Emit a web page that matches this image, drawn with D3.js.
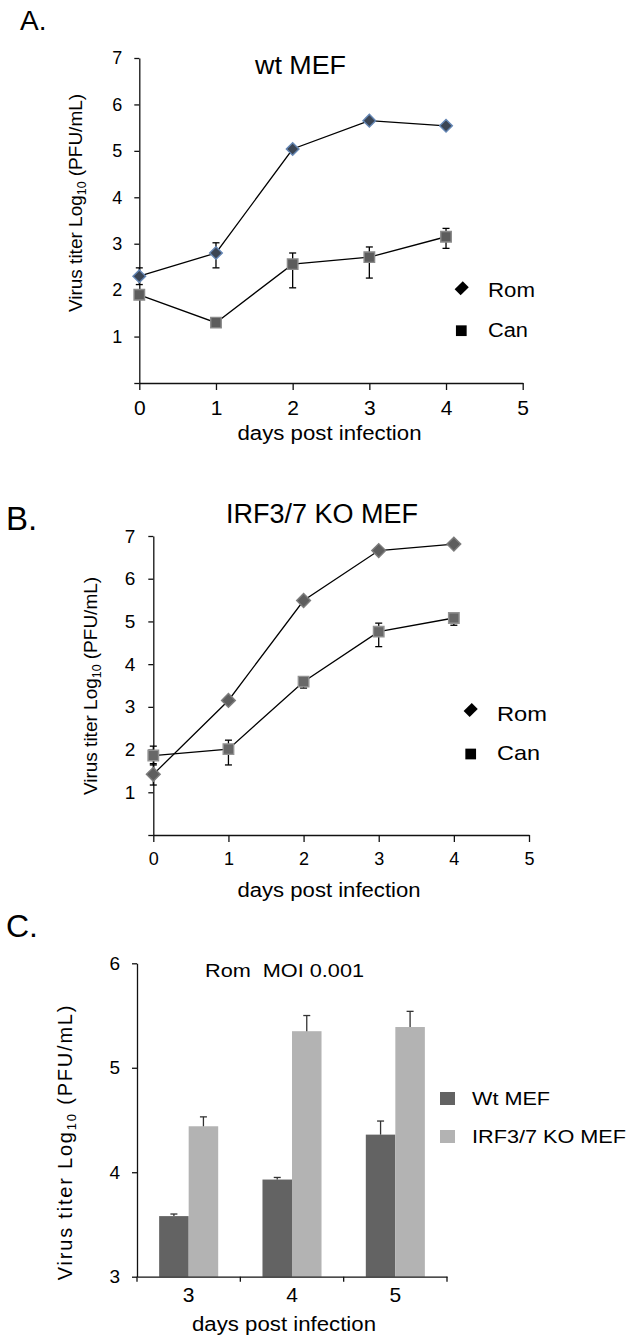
<!DOCTYPE html>
<html>
<head>
<meta charset="utf-8">
<script src="https://cdn.jsdelivr.net/npm/d3@7"></script>
<style>
  body { margin: 0; background: #fff; }
  text { font-family: "Liberation Sans", Arial, sans-serif; fill: #000; }
</style>
</head>
<body>
<div id="chart"></div>
<script>
const WIDTH  = 636;
const HEIGHT = 1341;

// ---- data ----
const daysAB   = [0, 1, 2, 3, 4];
const xTicksAB = [0, 1, 2, 3, 4, 5];
const yTicksAB = [0, 1, 2, 3, 4, 5, 6, 7];
const seriesAB = ['Rom', 'Can'];

// A. wt MEF
const wtRom     = [2.30, 2.80, 5.04, 5.65, 5.54];
const wtRomUp   = [0.18, 0.22, 0.03, 0.06, 0.03];
const wtRomDown = [0.18, 0.32, 0.03, 0.06, 0.03];
const wtCan     = [1.90, 1.30, 2.56, 2.71, 3.15];
const wtCanUp   = [0.10, 0.03, 0.24, 0.22, 0.18];
const wtCanDown = [0.10, 0.03, 0.51, 0.45, 0.25];

// B. IRF3/7 KO MEF
const koRom     = [1.42, 3.15, 5.49, 6.66, 6.81];
const koRomUp   = [0.25, 0.05, 0.05, 0.05, 0.03];
const koRomDown = [0.25, 0.05, 0.05, 0.05, 0.03];
const koCan     = [1.86, 2.01, 3.59, 4.76, 5.08];
const koCanUp   = [0.22, 0.21, 0.10, 0.20, 0.06];
const koCanDown = [0.22, 0.37, 0.15, 0.35, 0.17];

// C. Rom MOI 0.001
const barDays    = ['3', '4', '5'];
const barSeries  = ['Wt MEF', 'IRF3/7 KO MEF'];
const wtBar      = [3.58, 3.93, 4.36];
const wtBarErr   = [0.02, 0.02, 0.13];
const koBar      = [4.44, 5.35, 5.39];
const koBarErr   = [0.09, 0.15, 0.15];
const yTicksC    = [3, 4, 5, 6];

const svg = d3.select('#chart').append('svg')
  .attr('width', WIDTH)
  .attr('height', HEIGHT);

function styleAxis(g, fontSize) {
  g.attr('font-size', fontSize);
  g.selectAll('.domain, .tick line').attr('stroke', '#111').attr('stroke-width', 1.3);
  g.selectAll('.tick text').attr('fill', '#000');
}

function addText(x, y, str, size, len, anchor) {
  const t = svg.append('text')
    .attr('x', x).attr('y', y)
    .attr('font-size', size)
    .style('white-space', 'pre')
    .attr('text-anchor', anchor || 'start')
    .text(str);
  if (len) t.attr('textLength', len).attr('lengthAdjust', 'spacingAndGlyphs');
  return t;
}

function yLabel(cx, cy, size, spacing) {
  const t = svg.append('text')
    .attr('transform', 'translate(' + cx + ',' + cy + ') rotate(-90)')
    .attr('text-anchor', 'middle')
    .attr('font-size', size)
    .attr('letter-spacing', spacing || 0);
  t.append('tspan').text('Virus titer Log');
  t.append('tspan').attr('font-size', size * 0.65).attr('dy', size * 0.22).text('10');
  t.append('tspan').attr('dy', -size * 0.22).text(' (PFU/mL)');
}

const diamond = size => d3.symbol(d3.symbolSquare, size)();
const square  = size => d3.symbol(d3.symbolSquare, size)();
const intFmt  = d3.format('d');

// ---- line panels ----
function linePanel(p) {
  const x = d3.scaleLinear().domain([0, 5]).range(p.xRange);
  const y = d3.scaleLinear().domain([0, 7]).range(p.yRange);
  const g = svg.append('g');

  g.append('g')
    .attr('transform', 'translate(0,' + y(0) + ')')
    .call(d3.axisBottom(x).tickValues(xTicksAB).tickFormat(intFmt)
      .tickSize(7).tickSizeOuter(0).tickPadding(p.xPad))
    .call(a => styleAxis(a, p.xFont));
  g.append('g')
    .attr('transform', 'translate(' + x(0) + ',0)')
    .call(d3.axisLeft(y).tickValues(yTicksAB).tickSize(5).tickSizeOuter(0).tickPadding(p.yPad)
      .tickFormat(d => d === 0 ? '' : intFmt(d)))
    .call(a => styleAxis(a, p.yFont));

  const line = d3.line().x((d, i) => x(daysAB[i])).y(d => y(d));
  p.series.forEach(s => {
    g.append('path').datum(s.values)
      .attr('d', line)
      .attr('fill', 'none')
      .attr('stroke', '#000')
      .attr('stroke-width', 1.3);
  });

  // error bars
  p.series.forEach(s => {
    const eb = g.append('g').attr('stroke', '#000').attr('stroke-width', 1.3)
      .selectAll('g').data(s.values).join('g');
    eb.append('line')
      .attr('x1', (d, i) => x(daysAB[i])).attr('x2', (d, i) => x(daysAB[i]))
      .attr('y1', (d, i) => y(d + s.up[i])).attr('y2', (d, i) => y(d - s.down[i]));
    eb.append('line')
      .attr('x1', (d, i) => x(daysAB[i]) - 3.5).attr('x2', (d, i) => x(daysAB[i]) + 3.5)
      .attr('y1', (d, i) => y(d + s.up[i])).attr('y2', (d, i) => y(d + s.up[i]));
    eb.append('line')
      .attr('x1', (d, i) => x(daysAB[i]) - 3.5).attr('x2', (d, i) => x(daysAB[i]) + 3.5)
      .attr('y1', (d, i) => y(d - s.down[i])).attr('y2', (d, i) => y(d - s.down[i]));
  });

  // markers
  p.series.forEach(s => {
    g.append('g').selectAll('path').data(s.values).join('path')
      .attr('d', s.shape === 'diamond' ? diamond(s.size) : square(s.size))
      .attr('transform', (d, i) => 'translate(' + x(daysAB[i]) + ',' + y(d) + ')' +
        (s.shape === 'diamond' ? ' rotate(45)' : ''))
      .attr('fill', s.fill)
      .attr('stroke', s.stroke)
      .attr('stroke-width', 1.4);
  });

  // legend
  p.series.forEach((s, i) => {
    const lg = p.legend[i];
    svg.append('path')
      .attr('d', s.shape === 'diamond' ? diamond(lg.size) : square(lg.size))
      .attr('transform', 'translate(' + lg.mx + ',' + lg.my + ')' +
        (s.shape === 'diamond' ? ' rotate(45) scale(0.85,1.15)' : ''))
      .attr('fill', '#000');
    addText(lg.tx, lg.ty, seriesAB[i], lg.font, lg.len);
  });
}

linePanel({
  xRange: [139.3, 522.7], yRange: [383, 58],
  xPad: 10, yPad: 12, xFont: 21, yFont: 18,
  series: [
    { values: wtRom, up: wtRomUp, down: wtRomDown, shape: 'diamond', size: 80, fill: '#3b4554', stroke: '#6486b4' },
    { values: wtCan, up: wtCanUp, down: wtCanDown, shape: 'square', size: 110, fill: '#5c5c5c', stroke: '#8a8a8a' }
  ],
  legend: [
    { mx: 461.7, my: 288.3, size: 100, tx: 488, ty: 296.7, font: 20, len: 47 },
    { mx: 461.3, my: 330.7, size: 115, tx: 488, ty: 336.7, font: 20, len: 40 }
  ]
});

linePanel({
  xRange: [153.3, 529], yRange: [835, 536],
  xPad: 10, yPad: 13, xFont: 18, yFont: 19,
  series: [
    { values: koRom, up: koRomUp, down: koRomDown, shape: 'diamond', size: 95, fill: '#5e5e5e', stroke: '#7c7c7c' },
    { values: koCan, up: koCanUp, down: koCanDown, shape: 'square', size: 110, fill: '#686868', stroke: '#939393' }
  ],
  legend: [
    { mx: 470.7, my: 710, size: 100, tx: 497, ty: 720.7, font: 21, len: 50 },
    { mx: 470.7, my: 754, size: 115, tx: 497, ty: 760, font: 21, len: 43 }
  ]
});

// titles, labels A and B
addText(20, 30, 'A.', 28);
addText(255, 74, 'wt MEF', 25, 91);
addText(329.5, 440, 'days post infection', 20, 184, 'middle');
yLabel(82, 203, 19);

addText(6, 530, 'B.', 33);
addText(226, 523, 'IRF3/7 KO MEF', 27, 192);
addText(329, 897, 'days post infection', 20, 183, 'middle');
yLabel(97, 686, 19);

// ---- bar panel C ----
{
  const x  = d3.scaleBand().domain(barDays).range([137, 447]).padding(0);
  const x1 = d3.scaleBand().domain(barSeries).range([0, x.bandwidth()]).paddingInner(0).paddingOuter(0.75);
  const y  = d3.scaleLinear().domain([3, 6]).range([1276.7, 963.3]);
  const colors = ['#636363', '#b3b3b3'];
  const legendLen = [78, 154];
  const barVals = [wtBar, koBar];
  const barErrs = [wtBarErr, koBarErr];

  const g = svg.append('g');
  barSeries.forEach((s, si) => {
    const bg = g.append('g');
    bg.selectAll('rect').data(barVals[si]).join('rect')
      .attr('x', (d, i) => x(barDays[i]) + x1(s))
      .attr('width', x1.bandwidth())
      .attr('y', d => y(d))
      .attr('height', d => y(3) - y(d))
      .attr('fill', colors[si]);
    const eb = bg.append('g').attr('stroke', '#333').attr('stroke-width', 1.3)
      .selectAll('g').data(barVals[si]).join('g');
    const cx = i => x(barDays[i]) + x1(s) + x1.bandwidth() / 2;
    eb.append('line')
      .attr('x1', (d, i) => cx(i)).attr('x2', (d, i) => cx(i))
      .attr('y1', d => y(d)).attr('y2', (d, i) => y(d + barErrs[si][i]));
    eb.append('line')
      .attr('x1', (d, i) => cx(i) - 3.5).attr('x2', (d, i) => cx(i) + 3.5)
      .attr('y1', (d, i) => y(d + barErrs[si][i])).attr('y2', (d, i) => y(d + barErrs[si][i]));
  });

  g.append('g')
    .attr('transform', 'translate(' + x.range()[0] + ',0)')
    .call(d3.axisLeft(y).tickValues(yTicksC).tickFormat(intFmt)
      .tickSize(5).tickSizeOuter(0).tickPadding(12))
    .call(a => styleAxis(a, 19));
  g.append('g')
    .attr('transform', 'translate(0,' + y(3) + ')')
    .call(d3.axisBottom(x).tickSize(0).tickSizeOuter(0).tickPadding(10))
    .call(a => styleAxis(a, 21));
  // tick marks at category boundaries
  const bounds = barDays.map(d => x(d)).concat([x.range()[1]]);
  g.append('g').selectAll('line').data(bounds).join('line')
    .attr('x1', d => d).attr('x2', d => d)
    .attr('y1', y(3)).attr('y2', y(3) + 5)
    .attr('stroke', '#111').attr('stroke-width', 1.3);

  // legend
  barSeries.forEach((s, i) => {
    svg.append('rect')
      .attr('x', 440).attr('y', 1092 + i * 38)
      .attr('width', 15).attr('height', 13)
      .attr('fill', colors[i]);
    addText(472, 1105 + i * 38, s, 18, legendLen[i]);
  });
}

addText(6, 937, 'C.', 32);
addText(205, 977, 'Rom  MOI 0.001', 18, 159);
addText(284, 1331, 'days post infection', 20, 184, 'middle');
yLabel(72, 1142, 20, 1.8);
</script>
</body>
</html>
